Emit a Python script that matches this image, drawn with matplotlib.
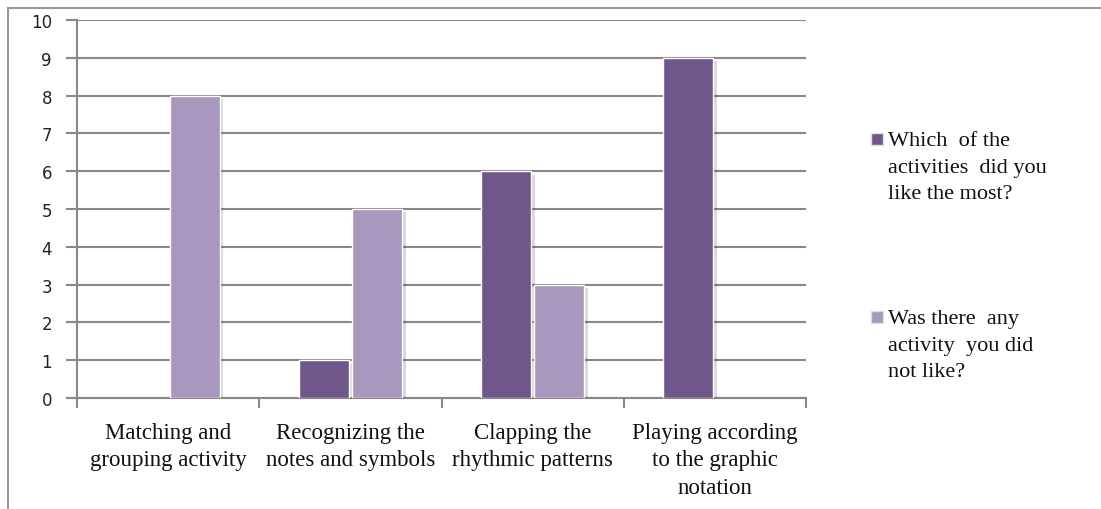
import numpy as np
import matplotlib.pyplot as plt
from matplotlib.lines import Line2D
from matplotlib.patches import Rectangle
import matplotlib.patheffects as pe

activities = ["Matching and\ngrouping activity",
              "Recognizing the\nnotes and symbols",
              "Clapping the\nrhythmic patterns",
              "Playing according\nto the graphic\nnotation"]
liked_most = [0, 1, 6, 9]
did_not_like = [8, 5, 3, 0]
series_names = ["Which  of the\nactivities  did you\nlike the most?",
                "Was there  any\nactivity  you did\nnot like?"]
colors = ["#6F578B", "#A898BD"]

fig = plt.figure(figsize=(11.01, 5.10), dpi=100)
ax = fig.add_axes([77 / 1101, 111 / 510, 729 / 1101, 378 / 510])

x = np.arange(len(activities))
w = 0.275
off = 0.146
shadow = [pe.SimplePatchShadow(offset=(2.5, -2.5), shadow_rgbFace="#000000", alpha=0.15), pe.Normal()]
for vals, dx, c in zip([liked_most, did_not_like], [-off, off], colors):
    bars = ax.bar(x + dx, vals, width=w, color=c, edgecolor="white", linewidth=1.0,
                  zorder=3, path_effects=shadow)
    for b, v in zip(bars, vals):
        b.set_visible(v > 0)

ax.set_xlim(-0.5, len(activities) - 0.5)
ax.set_ylim(0, 10)
ax.set_yticks(range(0, 11))
ax.tick_params(axis="y", length=8, width=1.5, color="#888888", pad=10,
               labelsize=12, labelcolor="#222222")
ax.grid(axis="y", color="#888888", linewidth=1.5, zorder=0)

ax.set_xticks(x)
ax.set_xticklabels(activities, fontfamily="Liberation Serif", fontsize=16.5,
                   linespacing=1.42, color="#111111")
ax.tick_params(axis="x", which="major", length=0, pad=17)
ax.set_xticks(np.arange(-0.5, len(activities)), minor=True)
ax.tick_params(axis="x", which="minor", length=7, width=1.5, color="#888888")

for s in ["top", "right"]:
    ax.spines[s].set_visible(False)
for s in ["left", "bottom"]:
    ax.spines[s].set_color("#888888")
    ax.spines[s].set_linewidth(1.5)

# legend: square swatch beside the first line of each multi-line label
for name, c, ytop in zip(series_names, colors, [133, 311]):
    fig.patches.append(Rectangle((871 / 1101, (510 - ytop - 13) / 510), 12 / 1101, 12 / 510,
                                 transform=fig.transFigure, facecolor=c,
                                 edgecolor="#DDDDDD", linewidth=1.0))
    fig.text(888 / 1101, (510 - ytop + 1) / 510, name, fontfamily="Liberation Serif",
             fontsize=16, linespacing=1.55, va="top", ha="left", color="#111111")

# chart border
fig.add_artist(Line2D([8 / 1101, 8 / 1101], [0, (510 - 9) / 510], color="#999999", lw=1.5))
fig.add_artist(Line2D([8 / 1101, 1], [(510 - 9) / 510] * 2, color="#999999", lw=1.5))

fig.savefig("out.png", dpi=100)
